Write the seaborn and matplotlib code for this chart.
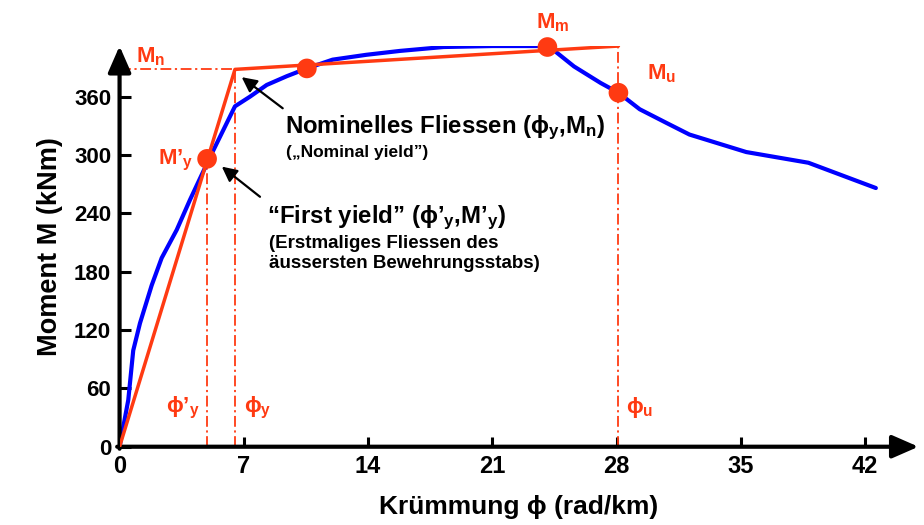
import numpy as np
import pandas as pd
import matplotlib
matplotlib.use("Agg")
import matplotlib.pyplot as plt
import seaborn as sns

# ---- data ----
phi_blue = [0, 0.49, 0.77, 1.15, 1.81, 2.37, 3.22, 3.97, 5.1, 6.5, 7.35, 8.29, 9.42,
            10.55, 12.0, 13.9, 15.8, 18.25, 21.0, 23.7, 24.3, 25.6, 27.1, 28.1, 29.3,
            30.8, 32.1, 35.3, 38.8, 42.6]
M_blue = [0, 48, 99, 127, 166, 194, 223, 254, 298, 350, 360, 372, 381,
          389, 398, 403, 407, 411, 412, 412, 410, 391, 374, 364, 347,
          333, 321, 303, 292, 266]

phi_red = [0, 6.5, 28.1]
M_red = [0, 388, 412]

phi_y1, M_y1 = 4.93, 296     # first yield
phi_y, M_n = 6.5, 388        # nominal yield
phi_n_pt, M_n_pt = 10.55, 389
phi_m, M_m = 24.1, 411
phi_u, M_u = 28.1, 364
M_red_end = 412

x_ticks = [0, 7, 14, 21, 28, 35, 42]
y_ticks = [0, 60, 120, 180, 240, 300, 360]

RED = "#ff3a12"
BLUE = "#0000ff"

sns.set_theme(style="white")
plt.rcParams["font.family"] = ["Liberation Sans", "DejaVu Sans"]
plt.rcParams["font.weight"] = "bold"
plt.rcParams["text.color"] = "black"
plt.rcParams["axes.labelcolor"] = "black"
plt.rcParams["xtick.color"] = "black"
plt.rcParams["ytick.color"] = "black"
plt.rcParams["mathtext.fontset"] = "custom"
plt.rcParams["mathtext.rm"] = "Liberation Sans:bold"
plt.rcParams["mathtext.it"] = "Liberation Sans:bold"
plt.rcParams["mathtext.bf"] = "Liberation Sans:bold"
plt.rcParams["mathtext.sf"] = "Liberation Sans:bold"

fig = plt.figure(figsize=(9.24, 5.25), dpi=100)
ax = fig.add_axes([0.1294, 0.1491, 0.8646, 0.7632])

df_blue = pd.DataFrame({"phi": phi_blue, "M": M_blue})
df_red = pd.DataFrame({"phi": phi_red, "M": M_red})

# reference dash-dot lines
dd = dict(color=RED, lw=1.3, linestyle=(0, (6, 2, 1.2, 2)), zorder=2)
ax.plot([0, phi_y], [M_n, M_n], **dd)
ax.plot([phi_y1, phi_y1], [0, M_y1], **dd)
ax.plot([phi_y, phi_y], [0, M_n], **dd)
ax.plot([phi_u, phi_u], [0, M_red_end], **dd)

sns.lineplot(data=df_blue, x="phi", y="M", sort=False, color=BLUE, lw=3.0, ax=ax, zorder=3)
sns.lineplot(data=df_red, x="phi", y="M", sort=False, color=RED, lw=2.5, ax=ax, zorder=4)

pts = pd.DataFrame({"phi": [phi_y1, phi_n_pt, phi_m, phi_u],
                    "M": [M_y1, M_n_pt, M_m, M_u]})
sns.scatterplot(data=pts, x="phi", y="M", color=RED, s=200, edgecolor="none",
                ax=ax, zorder=5, clip_on=False)

ax.set_xlim(0, 45)
ax.set_ylim(0, 412)
ax.set_xticks(x_ticks)
ax.set_yticks(y_ticks)
ax.set_xticklabels([str(v) for v in x_ticks], fontsize=17, fontweight="bold")
ax.set_yticklabels([str(v) for v in y_ticks], fontsize=16, fontweight="bold")
ax.tick_params(axis="x", direction="in", length=7, width=2.2, pad=6, colors="black")
ax.tick_params(axis="y", direction="in", length=8, width=2.2, pad=6, colors="black")
ax.tick_params(bottom=True, left=True)

for s in ax.spines.values():
    s.set_visible(False)
arr = dict(arrowstyle="-|>,head_length=0.8,head_width=0.35", lw=3.0, color="black",
           shrinkA=0, shrinkB=0, mutation_scale=20)
ax.annotate("", xy=(1, 0), xytext=(-0.003, 0), xycoords="axes fraction",
            arrowprops=arr, annotation_clip=False)
ax.annotate("", xy=(0, 1), xytext=(0, -0.005), xycoords="axes fraction",
            arrowprops=arr, annotation_clip=False)

ax.set_xlabel("Krümmung ϕ (rad/km)", fontsize=19, fontweight="bold", labelpad=12)
ax.set_ylabel("Moment M (kNm)", fontsize=19.5, fontweight="bold", labelpad=8)

# red labels
rk = dict(color=RED, fontsize=16, fontweight="bold")
ax.text(0.9, 401, "M$_n$", ha="left", va="center", **rk)
ax.text(phi_m + 0.3, 436, "M$_m$", ha="center", va="center", clip_on=False, **rk)
ax.text(29.7, 384, "M$_u$", ha="left", va="center", **rk)
ax.text(4.15, 294, "M’$_y$", ha="right", va="center", **rk)
ax.text(2.6, 40, "ϕ’$_y$", ha="left", va="center", **rk)
ax.text(7.0, 40, "ϕ$_y$", ha="left", va="center", **rk)
ax.text(28.5, 40, "ϕ$_u$", ha="left", va="center", **rk)

# black annotations
ax.text(9.3, 328, "Nominelles Fliessen (ϕ$_y$,M$_n$)", ha="left", va="center",
        fontsize=17.3, fontweight="bold", color="black")
ax.text(9.4, 303, "(„Nominal yield”)", ha="left", va="center",
        fontsize=12.5, fontweight="bold", color="black")
ax.text(8.3, 235, "“First yield” (ϕ’$_y$,M’$_y$)", ha="left", va="center",
        fontsize=17.3, fontweight="bold", color="black")
ax.text(8.4, 209, "(Erstmaliges Fliessen des", ha="left", va="center",
        fontsize=13.5, fontweight="bold", color="black")
ax.text(8.4, 188, "äussersten Bewehrungsstabs)", ha="left", va="center",
        fontsize=13.5, fontweight="bold", color="black")

ar2 = dict(arrowstyle="-|>,head_length=0.6,head_width=0.3", lw=1.6, color="black",
           shrinkA=0, shrinkB=0, mutation_scale=15)
ax.annotate("", xy=(6.88, 380), xytext=(9.19, 348), arrowprops=ar2)
ax.annotate("", xy=(5.76, 288), xytext=(7.91, 257), arrowprops=ar2)

fig.savefig("out.png", dpi=100)
